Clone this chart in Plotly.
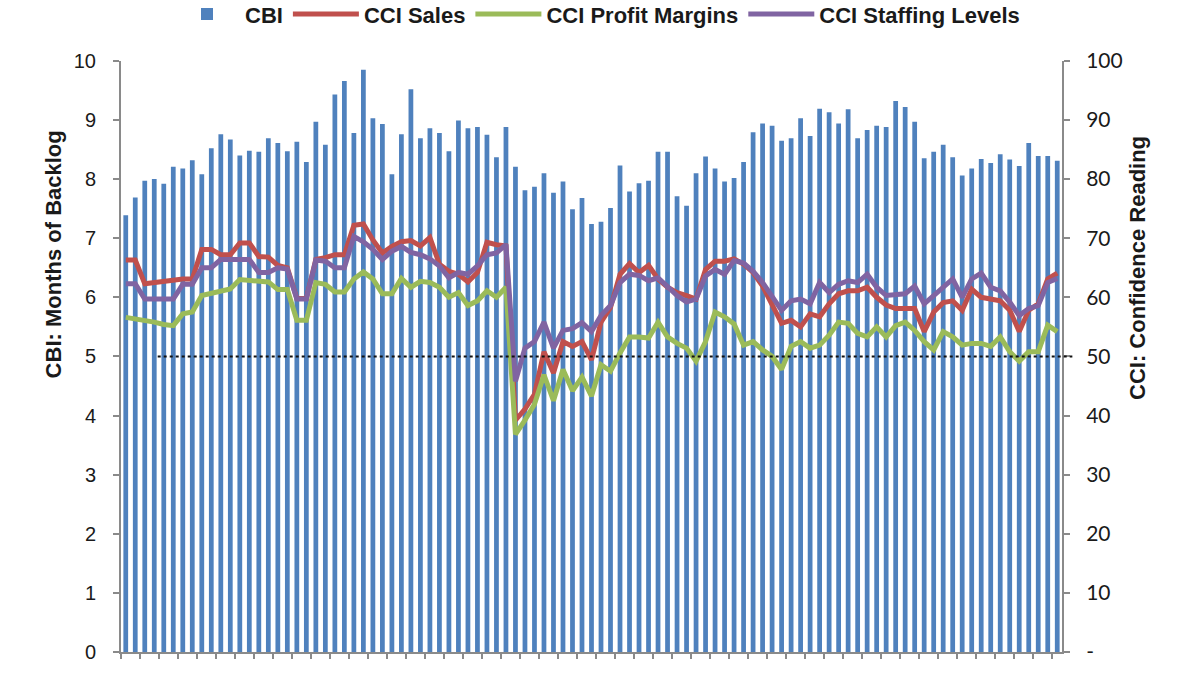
import plotly.graph_objects as go

# ---- data ----
periods = [str(i) for i in range(1, 100)]

cbi = [7.39, 7.69, 7.97, 8.00, 7.92, 8.21, 8.18, 8.32, 8.08, 8.52,
       8.76, 8.67, 8.40, 8.48, 8.46, 8.69, 8.61, 8.47, 8.63, 8.29,
       8.97, 8.58, 9.43, 9.66, 8.78, 9.85, 9.03, 8.93, 8.08, 8.76,
       9.52, 8.69, 8.86, 8.78, 8.47, 8.99, 8.86, 8.88, 8.75, 8.37,
       8.88, 8.21, 7.81, 7.87, 8.10, 7.77, 7.96, 7.49, 7.68, 7.24,
       7.28, 7.51, 8.23, 7.79, 7.93, 7.97, 8.46, 8.46, 7.71, 7.55,
       8.10, 8.38, 8.18, 7.96, 8.02, 8.29, 8.79, 8.94, 8.90, 8.65,
       8.69, 9.03, 8.73, 9.19, 9.13, 8.94, 9.18, 8.69, 8.83, 8.90,
       8.88, 9.32, 9.22, 8.97, 8.35, 8.46, 8.58, 8.37, 8.06, 8.18,
       8.34, 8.27, 8.42, 8.33, 8.22, 8.61, 8.39, 8.39, 8.31]

cci_sales = [66.3, 66.3, 62.3, 62.5, 62.9, 62.9, 63.1, 63.1, 68.1, 68.1,
             67.2, 67.2, 69.2, 69.2, 66.9, 66.8, 65.4, 65.0, 59.8, 59.8,
             66.4, 66.7, 67.2, 67.2, 72.2, 72.4, 69.7, 67.5, 68.6, 69.4,
             69.6, 68.7, 70.1, 65.6, 64.4, 63.9, 62.6, 64.2, 69.3, 68.9,
             68.7, 39.2, 41.1, 43.6, 50.8, 47.2, 52.5, 51.7, 52.5, 49.4,
             55.8, 58.3, 63.9, 65.7, 64.2, 65.4, 63.1, 61.7, 60.8, 60.3,
             59.7, 64.7, 66.1, 66.1, 66.5, 65.6, 64.2, 61.9, 58.9, 55.6,
             56.1, 55.0, 57.2, 56.7, 58.9, 60.6, 61.1, 61.1, 61.7, 60.0,
             58.7, 58.1, 58.1, 58.1, 54.2, 57.5, 59.1, 59.4, 57.8, 61.4,
             60.0, 59.7, 59.4, 57.8, 54.2, 57.8, 58.9, 63.1, 64.1]

cci_profit = [56.6, 56.4, 56.0, 55.8, 55.4, 55.2, 57.2, 57.5, 60.3, 60.6,
              61.1, 61.4, 63.0, 62.9, 62.8, 62.6, 61.3, 61.3, 56.1, 56.1,
              62.5, 62.2, 60.9, 60.9, 63.1, 64.3, 63.1, 60.6, 60.6, 63.2,
              61.7, 62.7, 62.5, 61.7, 60.0, 60.8, 58.6, 59.4, 61.1, 60.0,
              61.7, 36.8, 39.2, 41.9, 46.9, 42.5, 47.8, 44.2, 46.5, 43.3,
              48.6, 47.5, 50.6, 53.3, 53.3, 53.1, 55.8, 53.3, 52.2, 51.4,
              49.2, 52.5, 57.5, 56.7, 55.5, 51.9, 52.5, 51.1, 50.0, 47.8,
              51.7, 52.5, 51.4, 51.9, 53.6, 55.8, 55.6, 53.9, 53.3, 55.0,
              53.3, 55.2, 55.8, 54.4, 52.5, 51.1, 54.2, 53.3, 51.9, 52.2,
              52.2, 51.7, 53.3, 50.8, 49.2, 50.8, 50.8, 55.3, 54.2]

cci_staffing = [62.3, 62.3, 59.7, 59.7, 59.7, 59.7, 62.2, 62.2, 65.0, 65.0,
                66.4, 66.4, 66.4, 66.4, 64.2, 64.2, 65.0, 64.8, 59.7, 59.7,
                66.3, 66.1, 65.0, 65.0, 70.3, 69.4, 68.1, 66.4, 67.8, 68.6,
                67.6, 67.2, 66.5, 65.3, 63.3, 64.2, 63.9, 65.3, 67.2, 67.5,
                68.9, 45.8, 51.4, 52.5, 55.8, 51.4, 54.4, 54.7, 55.7, 54.2,
                56.9, 58.6, 62.5, 63.9, 63.7, 62.8, 63.3, 61.7, 60.3, 59.2,
                59.7, 63.6, 64.7, 63.9, 66.2, 65.8, 64.4, 62.5, 60.3, 57.8,
                59.4, 59.7, 58.9, 62.5, 60.8, 62.2, 62.8, 62.5, 63.9, 61.7,
                60.3, 60.4, 60.6, 61.9, 58.9, 60.3, 61.7, 63.1, 60.0, 63.1,
                64.1, 61.7, 61.1, 59.2, 56.9, 58.1, 58.6, 62.5, 63.2]

threshold = 50
left_range = [0, 10]
right_range = [0, 100]
left_ticks = list(range(0, 11))
right_tickvals = list(range(0, 101, 10))
right_ticktext = ["-", "10", "20", "30", "40", "50", "60", "70", "80", "90", "100"]

# ---- styles ----
FONT = "Liberation Sans, Arial, sans-serif"
AXIS_GREY = "#8a8a8a"
TXT = "#1a1a1a"

fig = go.Figure()
fig.add_trace(go.Bar(x=periods, y=cbi, name="CBI", marker=dict(color="#4f81bd", line=dict(width=0)),
                     yaxis="y"))
fig.add_trace(go.Scatter(x=periods, y=cci_sales, name="CCI Sales", mode="lines",
                         line=dict(color="#c0504d", width=5), yaxis="y2"))
fig.add_trace(go.Scatter(x=periods, y=cci_profit, name="CCI Profit Margins", mode="lines",
                         line=dict(color="#9bbb59", width=5), yaxis="y2"))
fig.add_trace(go.Scatter(x=periods, y=cci_staffing, name="CCI Staffing Levels", mode="lines",
                         line=dict(color="#8064a2", width=5), yaxis="y2"))

# dotted reference line at the 50 confidence level (extends slightly past the right axis)
thr_frac = (threshold - right_range[0]) / (right_range[1] - right_range[0])
fig.add_shape(type="line", xref="paper", yref="paper", x0=0.039, x1=1.011, y0=thr_frac, y1=thr_frac,
              line=dict(color="#111111", width=2, dash="dot"), layer="above")

fig.update_layout(
    width=1200, height=675,
    margin=dict(l=121, r=138, t=60, b=15),
    paper_bgcolor="white", plot_bgcolor="white",
    bargap=0.5,
    showlegend=True,
    legend=dict(orientation="h", x=0.4975, xref="container", xanchor="center",
                y=0.979, yref="container", yanchor="middle",
                font=dict(family=FONT, size=22, color=TXT, weight="bold"), itemwidth=66,
                traceorder="normal"),
    xaxis=dict(type="category", range=[-0.5, 98.5], showticklabels=False, showgrid=False,
               showline=True, linecolor=AXIS_GREY, linewidth=2, ticks="outside", tickson="boundaries",
               ticklen=5, tickwidth=1.5, tickcolor=AXIS_GREY, zeroline=False),
    yaxis=dict(range=left_range, tickvals=left_ticks, showgrid=False, zeroline=False,
               showline=True, linecolor=AXIS_GREY, linewidth=2, ticks="outside", ticklen=6,
               tickwidth=1.5, tickcolor=AXIS_GREY, ticklabelstandoff=13,
               tickfont=dict(family=FONT, size=20, color=TXT)),
    yaxis2=dict(range=right_range, overlaying="y", side="right", tickvals=right_tickvals,
                ticktext=right_ticktext, showgrid=False, zeroline=False,
                showline=True, linecolor=AXIS_GREY, linewidth=2, ticks="outside", ticklen=6,
                tickwidth=1.5, tickcolor=AXIS_GREY, ticklabelstandoff=12,
                tickfont=dict(family="Lato, " + FONT, size=21, color=TXT)),
    annotations=[
        dict(text="<b>CBI: Months of Backlog</b>", xref="paper", yref="paper", x=-0.072, y=0.673,
             textangle=-90, showarrow=False, xanchor="center", yanchor="middle",
             font=dict(family=FONT, size=22, color=TXT)),
        dict(text="<b>CCI: Confidence Reading</b>", xref="paper", yref="paper", x=1.081, y=0.65,
             textangle=-90, showarrow=False, xanchor="center", yanchor="middle",
             font=dict(family=FONT, size=22, color=TXT)),
    ],
)

fig.write_html("out.html")
